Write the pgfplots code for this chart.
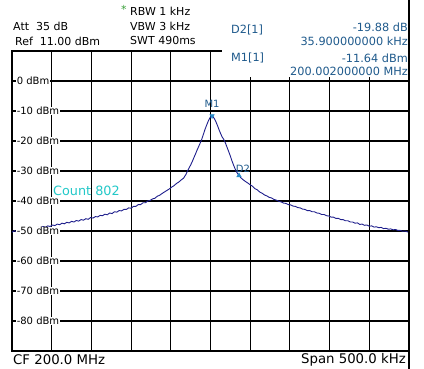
\documentclass[border=0pt]{standalone}
\usepackage{pgfplots}
\pgfplotsset{compat=1.18}
\usepackage{fontspec}
\setmainfont{DejaVu Sans}
\definecolor{trace}{HTML}{1E1E8C}
\definecolor{mk}{HTML}{1F5A8C}
\definecolor{mkr}{HTML}{2A8CC8}
\definecolor{cnt}{HTML}{22C8C8}
\definecolor{ast}{HTML}{3CA03C}
\pgfplotstableread{
f p
-250 -50.4
-247 -49.9
-244 -50.3
-241 -49.8
-238 -50.0
-235 -49.6
-232 -49.8
-229 -49.3
-226 -49.6
-223 -49.0
-220 -49.3
-217 -48.8
-214 -49.0
-211 -48.5
-208 -48.8
-205 -48.3
-202 -48.5
-199 -48.0
-196 -48.2
-193 -47.7
-190 -47.9
-187 -47.4
-184 -47.6
-181 -47.1
-178 -47.3
-175 -46.8
-172 -47.0
-169 -46.5
-166 -46.7
-163 -46.2
-160 -46.4
-157 -45.9
-154 -46.1
-151 -45.5
-148 -45.7
-145 -45.2
-142 -45.3
-139 -44.8
-136 -44.9
-133 -44.4
-130 -44.6
-127 -44.0
-124 -44.2
-121 -43.6
-118 -43.7
-115 -43.2
-112 -43.3
-109 -42.8
-106 -42.8
-103 -42.3
-100 -42.4
-97 -41.8
-94 -41.8
-91 -41.2
-88 -41.2
-85 -40.6
-82 -40.6
-79 -40.0
-76 -39.8
-73 -39.3
-70 -39.1
-67 -38.4
-64 -38.1
-61 -37.5
-58 -37.0
-55 -36.5
-52 -36.0
-49 -35.4
-46 -34.9
-43 -34.2
-40 -33.7
-37 -33.0
-34 -32.4
-31 -31.2
-29 -30.0
-27 -29.0
-25 -28.0
-23 -26.9
-21 -25.6
-19 -24.4
-17 -23.1
-15 -21.9
-13 -20.7
-11 -19.4
-9 -17.8
-7 -16.2
-5 -14.8
-3 -13.5
-1 -12.4
1 -11.8
2 -11.64
3 -11.8
5 -12.6
7 -13.7
9 -15.0
11 -16.4
13 -17.7
15 -18.8
17 -19.6
19 -20.8
21 -22.2
23 -23.6
25 -25.0
27 -26.6
29 -28.0
31 -29.3
33 -30.4
35.9 -31.52
38 -32.2
41 -32.9
44 -33.5
47 -34.0
50 -34.6
53 -35.1
56 -35.9
59 -36.3
62 -37.0
65 -37.4
68 -38.0
71 -38.3
74 -38.8
77 -39.0
80 -39.5
83 -39.7
86 -40.1
89 -40.3
92 -40.7
95 -40.8
98 -41.2
101 -41.3
104 -41.7
107 -41.8
110 -42.2
113 -42.3
116 -42.7
119 -42.8
122 -43.2
125 -43.2
128 -43.6
131 -43.6
134 -44.0
137 -44.1
140 -44.5
143 -44.5
146 -44.9
149 -45.0
152 -45.4
155 -45.4
158 -45.8
161 -45.8
164 -46.2
167 -46.2
170 -46.6
173 -46.6
176 -47.0
179 -47.0
182 -47.4
185 -47.3
188 -47.8
191 -47.7
194 -48.1
197 -48.0
200 -48.4
203 -48.3
206 -48.7
209 -48.6
212 -48.9
215 -48.8
218 -49.2
221 -49.1
224 -49.4
227 -49.3
230 -49.6
233 -49.5
236 -49.8
239 -49.8
242 -50.1
245 -50.0
248 -50.3
250 -50.4
}\trace
\begin{document}
\begin{tikzpicture}[x=1pt,y=1pt]
\useasboundingbox (-12,-18) rectangle (412,351);
\begin{axis}[at={(0,0)}, anchor=south west, scale only axis,
  width=397pt, height=300pt,
  xmin=-250, xmax=250, ymin=-90, ymax=10,
  xtick={-200,-150,...,200}, ytick={-80,-70,...,0},
  xticklabels={}, yticklabels={}, major tick length=0,
  grid=major, grid style={black, line width=1.1pt},
  axis line style={black, line width=1.8pt},
  clip=false]
\addplot[trace, line width=0.9pt, no marks] table[x=f,y=p] {\trace};
\addplot[only marks, mark=triangle*, mark options={rotate=180, fill=mkr, draw=mkr}, mark size=2.6pt] coordinates {(2,-11.64)};
\addplot[only marks, mark=triangle*, mark options={fill=mkr, draw=mkr}, mark size=2.6pt] coordinates {(35.9,-31.52)};
\foreach \v in {0,-10,...,-80} {
  \edef\tmp{\noexpand\node[anchor=west, fill=white, inner sep=0.6pt, font=\noexpand\fontsize{10}{11}\noexpand\selectfont] at (axis cs:-245,\v) {\v\ dBm};}
  \tmp
}
\end{axis}
\fill[white] (210,274) rectangle (397,301);
\draw[black, line width=1.1pt] (397,-18) -- (397,351);
\begin{scope}[every node/.style={inner sep=0pt, font=\fontsize{11}{12}\selectfont}]
\node[anchor=west, text=ast] at (109,342) {*};
\node[anchor=west] at (118,340) {RBW 1 kHz};
\node[anchor=west] at (1,325) {Att\ \ 35 dB};
\node[anchor=west] at (118,325) {VBW 3 kHz};
\node[anchor=west] at (3,310) {Ref\ \ 11.00 dBm};
\node[anchor=west] at (118,310) {SWT 490ms};
\node[anchor=west, text=mk, font=\fontsize{11.3}{12}\selectfont] at (219,321) {D2[1]};
\node[anchor=east, text=mk, font=\fontsize{11.3}{12}\selectfont] at (396,324) {-19.88 dB};
\node[anchor=east, text=mk, font=\fontsize{11.3}{12}\selectfont] at (396,310) {35.900000000 kHz};
\node[anchor=west, text=mk, font=\fontsize{11.3}{12}\selectfont] at (219,293) {M1[1]};
\node[anchor=east, text=mk, font=\fontsize{11.3}{12}\selectfont] at (396,293) {-11.64 dBm};
\node[anchor=east, text=mk, font=\fontsize{11.3}{12}\selectfont] at (396,280) {200.002000000 MHz};
\node[anchor=west, text=cnt, font=\fontsize{12.8}{14}\selectfont] at (41,160) {Count 802};
\node[text=mk, font=\fontsize{10}{11}\selectfont] at (200,247) {M1};
\node[text=mk, font=\fontsize{10}{11}\selectfont] at (231,182) {D2};
\node[anchor=west, font=\fontsize{13.3}{14}\selectfont] at (1,-9) {CF 200.0 MHz};
\node[anchor=east, font=\fontsize{13.3}{14}\selectfont] at (394,-9) {Span 500.0 kHz};
\end{scope}
\end{tikzpicture}
\end{document}
